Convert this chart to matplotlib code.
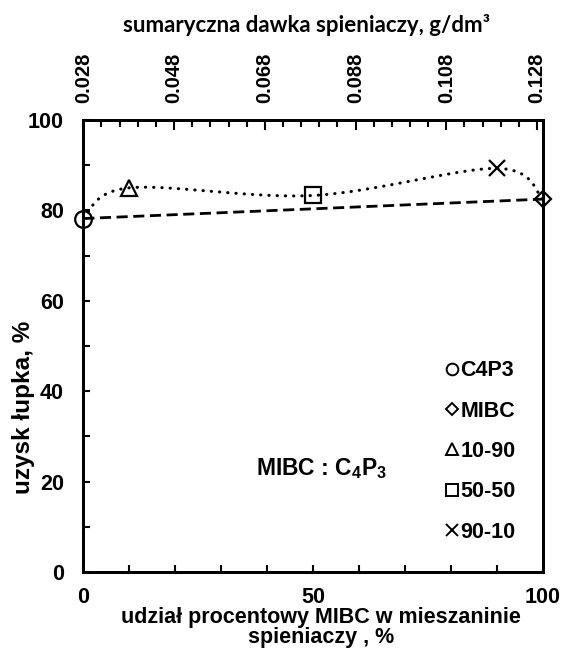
import numpy as np
import matplotlib
matplotlib.use("Agg")
import matplotlib.pyplot as plt
from matplotlib.ticker import MultipleLocator, FixedLocator

# -------------------------------------------------------------
# DANE
# -------------------------------------------------------------
etykiety = ["C4P3", "MIBC", "10-90", "50-50", "90-10"]
udzial_mibc = [0, 100, 10, 50, 90]          # % MIBC w mieszaninie
uzysk = [78.2, 82.5, 85.0, 83.3, 89.3]      # uzysk łupka, %
markery = ["o", "D", "^", "s", "x"]
rozmiary = [12, 7.8, 11, 11, 12]
rozmiary_leg = [8.4, 6.6, 8.4, 8.6, 9]

dawka_ticks = [0.028, 0.048, 0.068, 0.088, 0.108, 0.128]  # g/dm3
dawka_lim = (0.028, 0.1293)

plt.rcParams["font.family"] = ["Liberation Sans", "DejaVu Sans"]
plt.rcParams["font.weight"] = "bold"
plt.rcParams["mathtext.default"] = "regular"


def catmull_rom(xs, ys, n=40):
    # wygładzona linia w stylu Excela (Bezier przez punkty)
    p = np.column_stack([xs, ys]).astype(float)
    pts = [p[0]]
    for i in range(len(p) - 1):
        p0 = p[i - 1] if i > 0 else p[i]
        p3 = p[i + 2] if i + 2 < len(p) else p[i + 1]
        c1 = p[i] + (p[i + 1] - p0) / 6
        c2 = p[i + 1] - (p3 - p[i]) / 6
        t = np.linspace(0, 1, n)[1:, None]
        seg = ((1 - t) ** 3 * p[i] + 3 * (1 - t) ** 2 * t * c1
               + 3 * (1 - t) * t ** 2 * c2 + t ** 3 * p[i + 1])
        pts.extend(seg)
    pts = np.array(pts)
    return pts[:, 0], pts[:, 1]


fig = plt.figure(figsize=(5.66, 6.55), dpi=100)
ax = fig.add_axes([83.3 / 566, 1 - 572 / 655, 459.7 / 566, 452 / 655])

# linia przerywana C4P3 -> MIBC
ax.plot([udzial_mibc[0], udzial_mibc[1]], [uzysk[0], uzysk[1]],
        color="black", lw=2, linestyle=(0, (4, 2)), zorder=2)

# linia kropkowana wygładzona przez wszystkie punkty
kolejnosc = np.argsort(udzial_mibc)
xs = np.array(udzial_mibc)[kolejnosc]
ys = np.array(uzysk)[kolejnosc]
cx, cy = catmull_rom(xs, ys)
ax.plot(cx, cy, color="black", lw=2.2, linestyle=(0, (0.1, 2.6)),
        dash_capstyle="round", zorder=2)

for x, y, m, s, lab in zip(udzial_mibc, uzysk, markery, rozmiary, etykiety):
    ax.plot([x], [y], linestyle="none", marker=m, markersize=s,
            markerfacecolor="none", markeredgecolor="black",
            markeredgewidth=1.6, label=lab, zorder=3, clip_on=False)

ax.set_xlim(0, 100)
ax.set_ylim(0, 100)
ax.xaxis.set_major_locator(FixedLocator([0, 50, 100]))
ax.xaxis.set_minor_locator(MultipleLocator(10))
ax.yaxis.set_major_locator(MultipleLocator(20))
ax.yaxis.set_minor_locator(MultipleLocator(10))
ax.tick_params(which="both", direction="in", top=False, right=False,
               width=1.5, length=5)
ax.tick_params(axis="both", which="major", labelsize=15.5, pad=14)
ax.tick_params(axis="x", which="major", pad=11)
for spine in ax.spines.values():
    spine.set_linewidth(2)

ax.text(51.9, 22.8, "MIBC : C$_4$P$_3$", ha="center", va="center",
        fontsize=16.5, fontweight="bold")

leg = ax.legend(loc="center", bbox_to_anchor=(481 / 566, 1 - 451.5 / 655),
                bbox_transform=fig.transFigure, frameon=False,
                fontsize=15.5, handlelength=0.55,
                handletextpad=0.12, labelspacing=0.9, borderpad=0)
for t in leg.get_texts():
    t.set_fontweight("bold")
for h, s in zip(leg.legend_handles, rozmiary_leg):
    h.set_markersize(s)
    h.set_markeredgewidth(1.4)

# górna oś - dawka spieniaczy
ax2 = ax.twiny()
ax2.set_xlim(*dawka_lim)
ax2.xaxis.set_major_locator(FixedLocator(dawka_ticks))
ax2.xaxis.set_minor_locator(MultipleLocator(0.004))
ax2.set_xticklabels([f"{v:.3f}" for v in dawka_ticks], rotation=90,
                    fontsize=14.5, fontweight="bold")
ax2.tick_params(which="both", direction="in", width=1.5)
ax2.tick_params(which="major", length=7, pad=12)
ax2.tick_params(which="minor", length=5)
for spine in ax2.spines.values():
    spine.set_linewidth(2)

# opisy osi
fig.text(24 / 566, 1 - 407 / 655, "uzysk łupka, %", rotation=90,
         ha="center", va="center", fontsize=17.5, fontweight="bold")
fig.text(320.7 / 566, 1 - 643 / 655,
         "udział procentowy MIBC w mieszaninie\nspieniaczy , %",
         ha="center", va="baseline", fontsize=15.5, fontweight="bold",
         linespacing=0.93)
fig.text(307 / 566, 1 - 25 / 655, "sumaryczna dawka spieniaczy, g/dm³",
         ha="center", va="center", fontsize=16, fontweight="bold",
         family=["Lato", "DejaVu Sans"])

fig.savefig("out.png", dpi=100)
